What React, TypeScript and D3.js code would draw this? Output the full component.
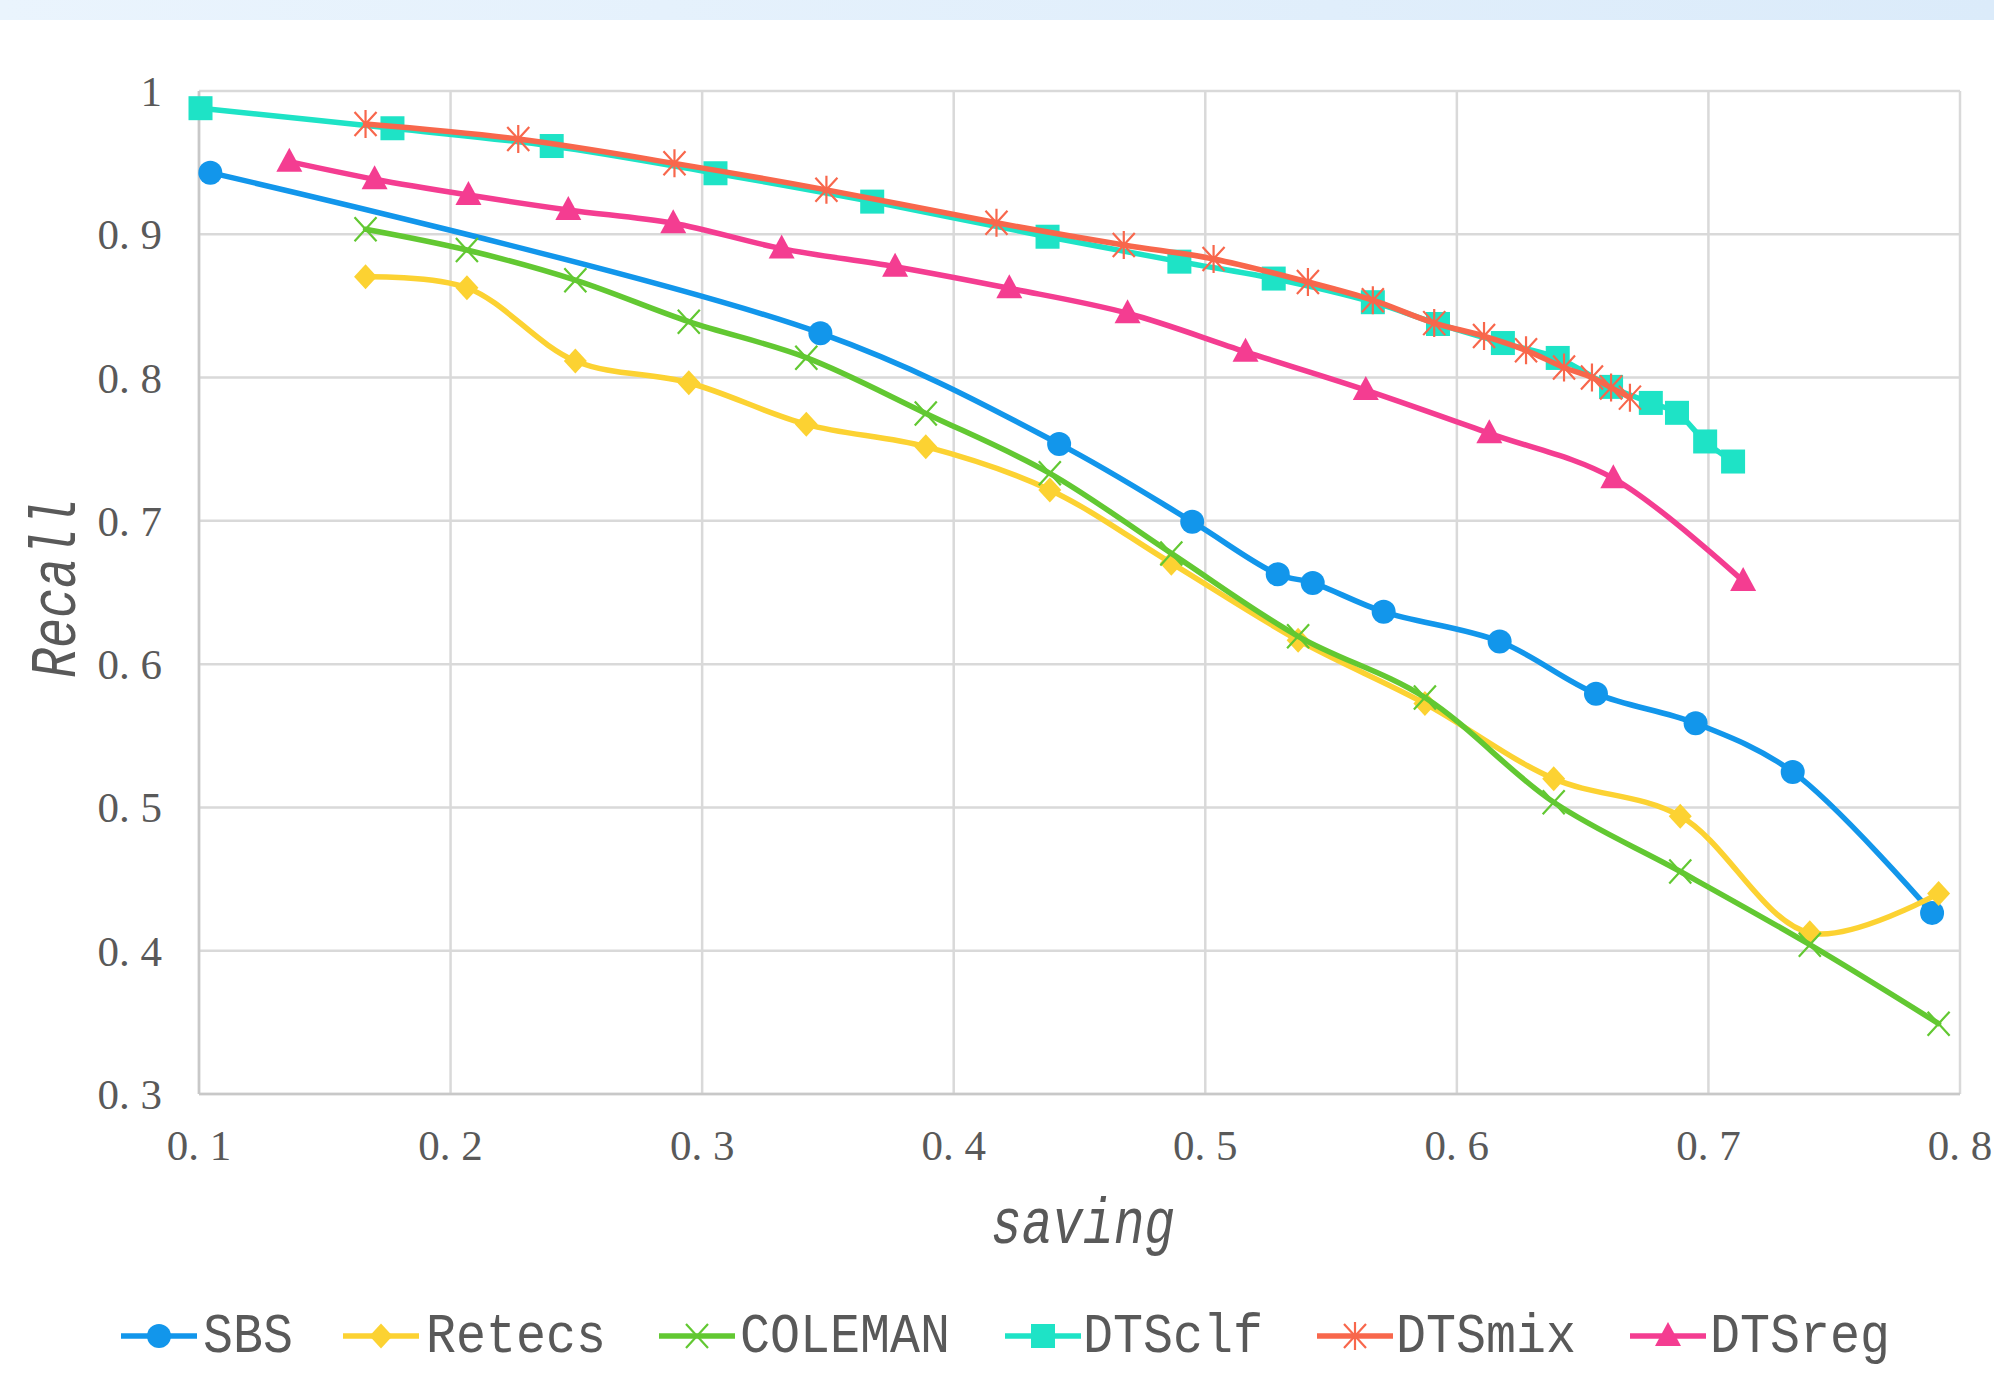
import React from "react";
import * as d3 from "d3";

const W = 1994;
const H = 1375;

const X_TICKS = [0.1, 0.2, 0.3, 0.4, 0.5, 0.6, 0.7, 0.8];
const Y_TICKS = [0.3, 0.4, 0.5, 0.6, 0.7, 0.8, 0.9, 1];

const SBS_X = [0.1045, 0.347, 0.4419, 0.4948, 0.5288, 0.5427, 0.5709, 0.617, 0.6553, 0.6949, 0.7335, 0.7889];
const SBS_Y = [0.943, 0.831, 0.7537, 0.6994, 0.6627, 0.6567, 0.6365, 0.6158, 0.5794, 0.5587, 0.5248, 0.4264];

const BASE_X = [0.1662, 0.2065, 0.2496, 0.2947, 0.3414, 0.3889, 0.4382, 0.4865, 0.5369, 0.5873, 0.6385, 0.6888, 0.7403, 0.7915];
const RETECS_Y = [0.8704, 0.8627, 0.8116, 0.7964, 0.7674, 0.7518, 0.7216, 0.6705, 0.6167, 0.5725, 0.5201, 0.4939, 0.4125, 0.44];
const COLEMAN_Y = [0.9035, 0.889, 0.868, 0.839, 0.8139, 0.775, 0.7332, 0.6773, 0.6194, 0.5767, 0.5036, 0.4553, 0.4042, 0.3491];

const CLF_X = [0.1006, 0.1769, 0.2402, 0.3053, 0.3676, 0.4373, 0.4897, 0.5272, 0.5666, 0.5925, 0.6183, 0.6401, 0.6613, 0.6771, 0.6875, 0.6987, 0.7098];
const CLF_Y = [0.988, 0.974, 0.9616, 0.9426, 0.9228, 0.8983, 0.8809, 0.8691, 0.8526, 0.8374, 0.8241, 0.8137, 0.7935, 0.7823, 0.7754, 0.7554, 0.7414];

const MIX_X = [0.1662, 0.2269, 0.289, 0.3494, 0.417, 0.4676, 0.5033, 0.5408, 0.5666, 0.591, 0.6108, 0.6275, 0.6426, 0.6537, 0.6613, 0.6688];
const MIX_Y = [0.977, 0.9665, 0.9495, 0.931, 0.908, 0.8925, 0.8828, 0.8667, 0.854, 0.838, 0.829, 0.819, 0.807, 0.8, 0.793, 0.786];

const REG_X = [0.1359, 0.1698, 0.2071, 0.2468, 0.2885, 0.3316, 0.3767, 0.4221, 0.4691, 0.516, 0.5638, 0.6129, 0.6622, 0.7138];
const REG_Y = [0.9507, 0.9384, 0.9274, 0.917, 0.9077, 0.89, 0.8774, 0.8623, 0.8449, 0.818, 0.7913, 0.7611, 0.7297, 0.658];

type Marker = "circle" | "diamond" | "x" | "square" | "star" | "triangle";

const SERIES: { name: string; color: string; marker: Marker; xs: number[]; ys: number[] }[] = [
  { name: "SBS", color: "#1296eb", marker: "circle", xs: SBS_X, ys: SBS_Y },
  { name: "Retecs", color: "#fcd232", marker: "diamond", xs: BASE_X, ys: RETECS_Y },
  { name: "COLEMAN", color: "#62c832", marker: "x", xs: BASE_X, ys: COLEMAN_Y },
  { name: "DTSclf", color: "#1ee3c6", marker: "square", xs: CLF_X, ys: CLF_Y },
  { name: "DTSmix", color: "#f8674c", marker: "star", xs: MIX_X, ys: MIX_Y },
  { name: "DTSreg", color: "#f43d91", marker: "triangle", xs: REG_X, ys: REG_Y },
];

// legend item starts (line left edge) and text starts
const LEGEND_LINE_X = [121, 343, 659, 1005, 1317, 1630];
const LEGEND_TEXT_X = [203, 426, 740, 1083, 1396, 1710];

const x = d3.scaleLinear().domain([0.1, 0.8]).range([199, 1960]);
const y = d3.scaleLinear().domain([0.3, 1]).range([1094, 91]);

const fmt = (v: number) => (v === 1 ? "1" : v.toFixed(1).replace(".", ". "));

function MarkerShape({ type, cx, cy, color }: { type: Marker; cx: number; cy: number; color: string }) {
  switch (type) {
    case "circle":
      return <circle cx={cx} cy={cy} r={12} fill={color} />;
    case "diamond":
      return <path d={`M${cx},${cy - 12.5}L${cx + 11.5},${cy}L${cx},${cy + 12.5}L${cx - 11.5},${cy}Z`} fill={color} />;
    case "square":
      return <rect x={cx - 12} y={cy - 12} width={24} height={24} fill={color} />;
    case "triangle":
      return <path d={`M${cx},${cy - 14}L${cx + 13},${cy + 10}L${cx - 13},${cy + 10}Z`} fill={color} />;
    case "x":
      return (
        <path
          d={`M${cx - 11},${cy - 12}L${cx + 11},${cy + 12}M${cx + 11},${cy - 12}L${cx - 11},${cy + 12}`}
          stroke={color}
          strokeWidth={2.2}
          fill="none"
        />
      );
    case "star":
      return (
        <path
          d={`M${cx - 11},${cy - 12}L${cx + 11},${cy + 12}M${cx + 11},${cy - 12}L${cx - 11},${cy + 12}M${cx},${cy - 14}L${cx},${cy + 14}`}
          stroke={color}
          strokeWidth={2.2}
          fill="none"
        />
      );
  }
}

export default function App() {
  const line = d3
    .line<[number, number]>()
    .x((d) => x(d[0]))
    .y((d) => y(d[1]))
    .curve(d3.curveCatmullRom.alpha(0.5));

  const tickFont = "'Liberation Serif', serif";
  const monoFont = "'Liberation Mono', monospace";

  return (
    <svg width={W} height={H} style={{ position: "absolute", left: 0, top: 0, background: "#fff" }}>
      <defs>
        <linearGradient id="band" x1="0" x2="1" y1="0" y2="0">
          <stop offset="0%" stopColor="#eaf4fd" />
          <stop offset="100%" stopColor="#dbebfa" />
        </linearGradient>
      </defs>
      <rect x={0} y={0} width={W} height={20} fill="url(#band)" />

      {/* grid */}
      {Y_TICKS.map((t) => (
        <line key={`gy${t}`} x1={x(0.1)} x2={x(0.8)} y1={y(t)} y2={y(t)} stroke="#d9d9d9" strokeWidth={2.5} />
      ))}
      {X_TICKS.map((t) => (
        <line key={`gx${t}`} x1={x(t)} x2={x(t)} y1={y(1)} y2={y(0.3)} stroke="#d9d9d9" strokeWidth={2.5} />
      ))}
      <line x1={x(0.1)} x2={x(0.1)} y1={y(1)} y2={y(0.3)} stroke="#c8c8c8" strokeWidth={2.5} />
      <line x1={x(0.1)} x2={x(0.8)} y1={y(0.3)} y2={y(0.3)} stroke="#c8c8c8" strokeWidth={2.5} />

      {/* tick labels */}
      {Y_TICKS.map((t) => (
        <text
          key={`ty${t}`}
          x={162}
          y={y(t)}
          dy="0.35em"
          textAnchor="end"
          fill="#595959"
          style={{ font: `43px ${tickFont}` }}
        >
          {fmt(t)}
        </text>
      ))}
      {X_TICKS.map((t) => (
        <text
          key={`tx${t}`}
          x={x(t)}
          y={1145}
          dy="0.35em"
          textAnchor="middle"
          fill="#595959"
          style={{ font: `43px ${tickFont}` }}
        >
          {fmt(t)}
        </text>
      ))}

      {/* axis titles */}
      <text
        x={1083}
        y={1221}
        dy="0.35em"
        textAnchor="middle"
        fill="#595959"
        textLength={184}
        lengthAdjust="spacingAndGlyphs"
        style={{ font: `italic 64px ${monoFont}` }}
      >
        saving
      </text>
      <text
        transform="translate(53,588) rotate(-90)"
        textAnchor="middle"
        dy="0.35em"
        fill="#595959"
        textLength={180}
        lengthAdjust="spacingAndGlyphs"
        style={{ font: `italic 64px ${monoFont}` }}
      >
        Recall
      </text>

      {/* series */}
      {SERIES.map((s) => {
        const pts = s.xs.map((v, i) => [v, s.ys[i]] as [number, number]);
        return (
          <g key={s.name}>
            <path d={line(pts) ?? ""} fill="none" stroke={s.color} strokeWidth={5.5} strokeLinejoin="round" strokeLinecap="round" />
            {pts.map((p, i) => (
              <MarkerShape key={i} type={s.marker} cx={x(p[0])} cy={y(p[1])} color={s.color} />
            ))}
          </g>
        );
      })}

      {/* legend */}
      {SERIES.map((s, i) => {
        const lx = LEGEND_LINE_X[i];
        const cy = 1336;
        return (
          <g key={`lg${s.name}`}>
            <line x1={lx} x2={lx + 76} y1={cy} y2={cy} stroke={s.color} strokeWidth={5.5} />
            <MarkerShape type={s.marker} cx={lx + 38} cy={cy} color={s.color} />
            <text
              x={LEGEND_TEXT_X[i]}
              y={cy - 4}
              dy="0.36em"
              fill="#595959"
              textLength={s.name.length * 30}
              lengthAdjust="spacingAndGlyphs"
              style={{ font: `56px ${monoFont}` }}
            >
              {s.name}
            </text>
          </g>
        );
      })}
    </svg>
  );
}
